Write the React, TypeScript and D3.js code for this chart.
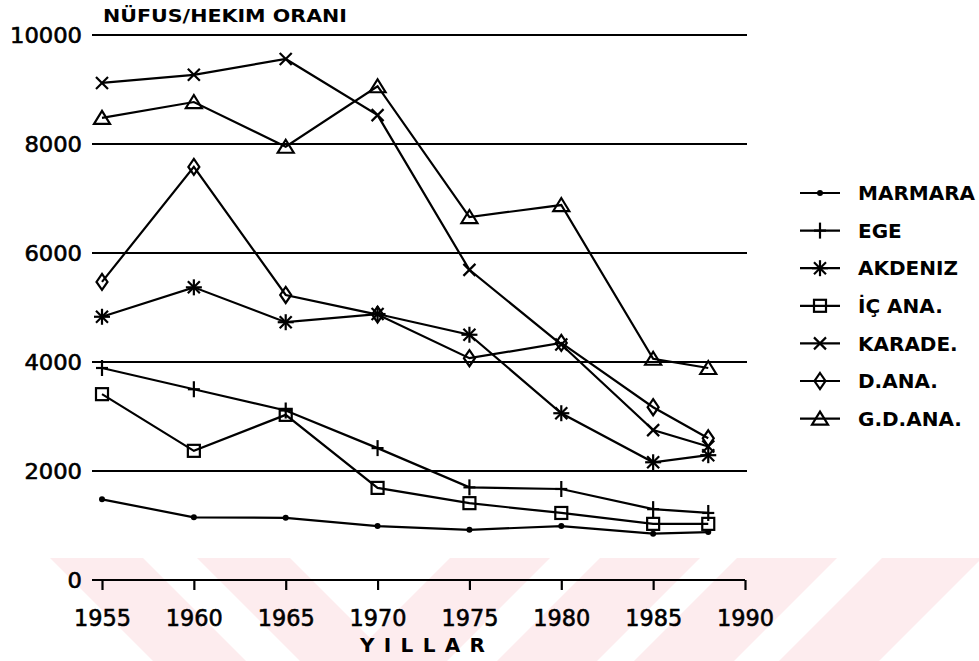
import * as d3 from "d3";
import { useEffect, useRef } from "react";

const W = 979;
const H = 661;

const yillar = [1955, 1960, 1965, 1970, 1975, 1980, 1985, 1988];
const eksenYillar = [1955, 1960, 1965, 1970, 1975, 1980, 1985, 1990];
const yTicks = [0, 2000, 4000, 6000, 8000, 10000];

const marmara = [1480, 1150, 1140, 990, 920, 990, 850, 880];
const ege = [3890, 3500, 3110, 2420, 1700, 1670, 1300, 1230];
const akdeniz = [4830, 5370, 4730, 4880, 4500, 3060, 2160, 2290];
const icAna = [3410, 2370, 3030, 1690, 1410, 1230, 1030, 1030];
const karade = [9120, 9270, 9560, 8530, 5690, 4320, 2750, 2450];
const dAna = [5470, 7580, 5230, 4870, 4070, 4350, 3170, 2600];
const gdAna = [8480, 8770, 7950, 9060, 6660, 6880, 4060, 3890];

const bolgeler = ["MARMARA", "EGE", "AKDENIZ", "İÇ ANA.", "KARADE.", "D.ANA.", "G.D.ANA."];
const seriler = [marmara, ege, akdeniz, icAna, karade, dAna, gdAna];
const isaretler = ["dot", "plus", "star", "square", "cross", "diamond", "triangle"];

// draws one marker symbol into a group
function isaretCiz(g, tip, cx, cy) {
  const line = (x1, y1, x2, y2) =>
    g.append("line").attr("x1", x1).attr("y1", y1).attr("x2", x2).attr("y2", y2)
      .attr("stroke", "#000").attr("stroke-width", 2.2);
  const hollow = (sel) => sel.attr("fill", "none").attr("stroke", "#000").attr("stroke-width", 2.2);
  if (tip === "dot") {
    g.append("circle").attr("cx", cx).attr("cy", cy).attr("r", 3).attr("fill", "#000");
  } else if (tip === "plus") {
    line(cx, cy - 8, cx, cy + 8);
    line(cx - 6, cy, cx + 6, cy);
  } else if (tip === "star") {
    line(cx, cy - 8, cx, cy + 8);
    line(cx - 8, cy, cx + 8, cy);
    line(cx - 6, cy - 6, cx + 6, cy + 6);
    line(cx - 6, cy + 6, cx + 6, cy - 6);
  } else if (tip === "square") {
    hollow(g.append("rect").attr("x", cx - 6).attr("y", cy - 6).attr("width", 12).attr("height", 12));
  } else if (tip === "cross") {
    line(cx - 6, cy - 6, cx + 6, cy + 6);
    line(cx - 6, cy + 6, cx + 6, cy - 6);
  } else if (tip === "diamond") {
    hollow(g.append("polygon")
      .attr("points", [[cx, cy - 8], [cx + 5.5, cy], [cx, cy + 8], [cx - 5.5, cy]].join(" ")));
  } else if (tip === "triangle") {
    hollow(g.append("polygon")
      .attr("points", [[cx, cy - 7], [cx + 8, cy + 6], [cx - 8, cy + 6]].join(" ")));
  }
}

const App = () => {
  const svgRef = useRef(null);

  useEffect(() => {
    const svg = d3.select(svgRef.current);
    svg.selectAll("*").remove();

    const x = d3.scaleLinear().domain([1955, 1990]).range([102, 745]);
    const y = d3.scaleLinear().domain([0, 10000]).range([580, 35]);

    // pembe filigran şeritleri
    const wm = svg.append("g").attr("fill", "rgb(253,236,238)");
    const top = 558, bot = H;
    [50, 197].forEach((x0) => {
      wm.append("polygon").attr("points",
        [[x0, top], [x0 + 93, top], [x0 + 93 + (bot - top), bot], [x0 + (bot - top), bot]].join(" "));
    });
    [450, 600, 737, 882].forEach((x0) => {
      wm.append("polygon").attr("points",
        [[x0, top], [x0 + 100, top], [x0 + 100 - (bot - top), bot], [x0 - (bot - top), bot]].join(" "));
    });

    // yatay çizgiler
    svg.append("g").selectAll("line").data(yTicks.filter((d) => d > 0)).join("line")
      .attr("x1", 92).attr("x2", 747)
      .attr("y1", (d) => y(d)).attr("y2", (d) => y(d))
      .attr("stroke", "#000").attr("stroke-width", 2);

    // x ekseni
    const eksen = svg.append("g").attr("transform", `translate(0,${y(0)})`)
      .call(d3.axisBottom(x).tickValues(eksenYillar).tickSize(10).tickFormat(d3.format("d")));
    eksen.select(".domain").attr("d", `M92,0H${x(1990)}`).attr("stroke-width", 2.2);
    eksen.selectAll(".tick line").attr("stroke-width", 2.2);
    eksen.selectAll(".tick text")
      .attr("y", 38).attr("dy", "0.35em")
      .attr("font-family", "DejaVu Sans").attr("font-size", 23).attr("fill", "#000")
      .attr("stroke", "#000").attr("stroke-width", 0.6)
      .attr("textLength", 57).attr("lengthAdjust", "spacingAndGlyphs");

    // y etiketleri
    svg.append("g").selectAll("text").data(yTicks).join("text")
      .attr("x", 82).attr("y", (d) => y(d)).attr("dy", "0.36em")
      .attr("text-anchor", "end")
      .attr("font-family", "DejaVu Sans").attr("font-size", 21)
      .attr("stroke", "#000").attr("stroke-width", 0.6)
      .attr("textLength", (d) => String(d).length * 14.4).attr("lengthAdjust", "spacingAndGlyphs")
      .text((d) => d);

    svg.append("text").attr("x", 103).attr("y", 22)
      .attr("font-family", "DejaVu Sans").attr("font-weight", "bold").attr("font-size", 18)
      .attr("textLength", 244).attr("lengthAdjust", "spacingAndGlyphs")
      .text("NÜFUS/HEKIM ORANI");

    svg.append("text").attr("x", 360).attr("y", 652)
      .attr("font-family", "DejaVu Sans").attr("font-weight", "bold").attr("font-size", 20)
      .attr("textLength", 125).attr("lengthAdjust", "spacing")
      .text("YILLAR");

    // seriler
    const cizgi = d3.line().x((d, i) => x(yillar[i])).y((d) => y(d));
    seriler.forEach((s, k) => {
      svg.append("path").attr("d", cizgi(s)).attr("fill", "none")
        .attr("stroke", "#000").attr("stroke-width", 2.2);
      const g = svg.append("g");
      s.forEach((v, i) => isaretCiz(g, isaretler[k], x(yillar[i]), y(v)));
    });

    // lejant
    const lej = svg.append("g");
    bolgeler.forEach((ad, i) => {
      const ly = 193 + i * 37.6;
      lej.append("line").attr("x1", 800).attr("x2", 840).attr("y1", ly).attr("y2", ly)
        .attr("stroke", "#000").attr("stroke-width", 2.2);
      isaretCiz(lej.append("g"), isaretler[i], 820, ly);
      lej.append("text").attr("x", 858).attr("y", ly).attr("dy", "0.36em")
        .attr("font-family", "DejaVu Sans").attr("font-weight", "bold").attr("font-size", 20)
        .text(ad);
    });
  }, []);

  return (
    <svg ref={svgRef} width={W} height={H}
      style={{ position: "absolute", left: 0, top: 0, background: "#fff" }} />
  );
};

export default App;
